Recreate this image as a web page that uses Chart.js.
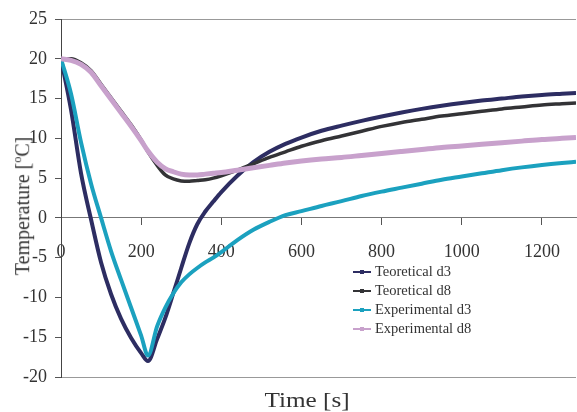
<!DOCTYPE html>
<html>
<head>
<meta charset="utf-8">
<script src="https://cdn.jsdelivr.net/npm/chart.js@4.4.1/dist/chart.umd.min.js"></script>
<style>
  body { margin: 0; background: #fff; }
  #wrap { position: relative; width: 577px; height: 412px; }
  .serif { font-family: "Liberation Serif", "Times New Roman", serif; color: #333; }
  #legend { position: absolute; left: 353px; top: 262px; font-size: 14.5px; }
  #legend .row { height: 19px; display: flex; align-items: center; white-space: nowrap; }
  #legend .sym { position: relative; width: 18px; height: 2px; margin-right: 4px; }
  #legend .sym i { position: absolute; left: 7px; top: -1px; width: 4px; height: 4px; }
  #ytitle { position: absolute; left: 22px; top: 206px; font-size: 20px; white-space: nowrap;
            transform: translate(-50%, -50%) rotate(-90deg); }
  #xtitle { position: absolute; left: 307px; top: 400px; font-size: 21px; white-space: nowrap;
            transform: translate(-50%, -50%) scaleX(1.2); }
</style>
</head>
<body>
<div id="wrap">
  <canvas id="graph" width="577" height="412"></canvas>
  <div id="legend" class="serif"></div>
  <div id="ytitle" class="serif">Temperature [<sup style="font-size:12px">o</sup>C]</div>
  <div id="xtitle" class="serif">Time [s]</div>
</div>
<script>
// time axis [s]
const times = [0, 25, 50, 75, 100, 125, 150, 175, 200, 217, 240, 260, 280, 300, 320, 340, 360, 380, 400,
  440, 480, 520, 560, 600, 650, 700, 750, 800, 850, 900, 950, 1000, 1050, 1100, 1150, 1200, 1250, 1285];
const xTicks = [0, 200, 400, 600, 800, 1000, 1200];

const teoD3 = [20, 13.6, 5.6, -0.2, -5.6, -9.6, -12.7, -15.1, -17.0, -18.0, -15.2, -12.6, -9.5, -6.3, -3.2, -0.8, 0.8, 2.05, 3.25,
  5.3, 7.0, 8.3, 9.3, 10.1, 10.95, 11.6, 12.2, 12.75, 13.25, 13.7, 14.1, 14.45, 14.75, 15.0, 15.25, 15.45, 15.6, 15.7];
const teoD8 = [20, 20.0, 19.5, 18.5, 16.8, 15.1, 13.4, 11.7, 9.8, 8.3, 6.6, 5.4, 4.9, 4.65, 4.6, 4.7, 4.8, 5.0, 5.3,
  6.0, 6.8, 7.6, 8.3, 9.0, 9.7, 10.3, 10.9, 11.5, 12.0, 12.4, 12.8, 13.1, 13.4, 13.7, 13.95, 14.2, 14.35, 14.45];
const expD3 = [20, 15.6, 9.5, 4.3, 0.0, -4.2, -7.8, -11.3, -14.8, -17.3, -13.6, -11.3, -9.5, -8.1, -7.1, -6.3, -5.6, -5.0, -4.3,
  -2.8, -1.5, -0.5, 0.35, 0.85, 1.5, 2.1, 2.75, 3.3, 3.8, 4.3, 4.8, 5.2, 5.6, 6.0, 6.35, 6.65, 6.9, 7.05];
const expD8 = [20, 19.8, 19.3, 18.3, 16.6, 14.9, 13.2, 11.5, 9.7, 8.4, 7.0, 6.2, 5.8, 5.5, 5.4, 5.4, 5.5, 5.6, 5.7,
  6.0, 6.3, 6.6, 6.9, 7.15, 7.4, 7.6, 7.85, 8.1, 8.35, 8.6, 8.85, 9.05, 9.25, 9.45, 9.65, 9.85, 10.0, 10.1];

const seriesNames = ['Teoretical d3', 'Teoretical d8', 'Experimental d3', 'Experimental d8'];
const seriesColors = ['#2d2d62', '#333336', '#1ba1bf', '#c8a1cc'];
const seriesWidths = [4, 3.5, 4, 5];
const seriesOrder = [3, 2, 1, 0]; // pink on top, like the original
const seriesValues = [teoD3, teoD8, expD3, expD8];

const serif = '"Liberation Serif", "Times New Roman", serif';

new Chart(document.getElementById('graph'), {
  type: 'line',
  data: {
    datasets: seriesValues.map((vals, i) => ({
      label: seriesNames[i],
      data: vals.map((v, k) => ({ x: times[k], y: v })),
      borderColor: seriesColors[i],
      backgroundColor: seriesColors[i],
      borderWidth: seriesWidths[i],
      pointRadius: 0,
      cubicInterpolationMode: 'monotone',
      order: seriesOrder[i],
      fill: false
    }))
  },
  options: {
    responsive: false,
    animation: false,
    devicePixelRatio: 1,
    layout: { padding: { top: 19, right: 0, left: 0, bottom: 0 } },
    plugins: { legend: { display: false }, tooltip: { enabled: false } },
    scales: {
      x: {
        type: 'linear',
        position: { y: 0 },
        min: 0, max: 1285,
        afterBuildTicks: s => { s.ticks = xTicks.map(v => ({ value: v })); },
        ticks: { autoSkip: false, padding: 17, maxRotation: 0, color: '#333', font: { family: serif, size: 18 },
                 callback: v => String(v) },
        grid: { drawOnChartArea: false, tickLength: 7, tickColor: '#555' },
        border: { color: '#777', width: 1 }
      },
      x2: {
        type: 'linear',
        position: 'bottom',
        min: 0, max: 1285,
        afterFit: s => { s.height = 35; },
        ticks: { display: false },
        grid: { display: false },
        border: { display: false }
      },
      y: {
        min: -20, max: 25,
        afterFit: s => { s.width = 61; },
        ticks: { stepSize: 5, padding: 8, color: '#333', font: { family: serif, size: 18 } },
        grid: {
          color: c => (c.tick && (c.tick.value === 25 || c.tick.value === -20)) ? '#999' : 'rgba(0,0,0,0)',
          tickColor: '#555',
          tickLength: 6
        },
        border: { color: '#444', width: 1 }
      }
    }
  }
});

// legend sits inside the plot, as in the original
const legend = document.getElementById('legend');
seriesNames.forEach((name, i) => {
  const row = document.createElement('div');
  row.className = 'row';
  row.innerHTML = '<span class="sym" style="background:' + seriesColors[i] + '"><i style="background:' + seriesColors[i] + '"></i></span>' + name;
  legend.appendChild(row);
});
</script>
</body>
</html>
